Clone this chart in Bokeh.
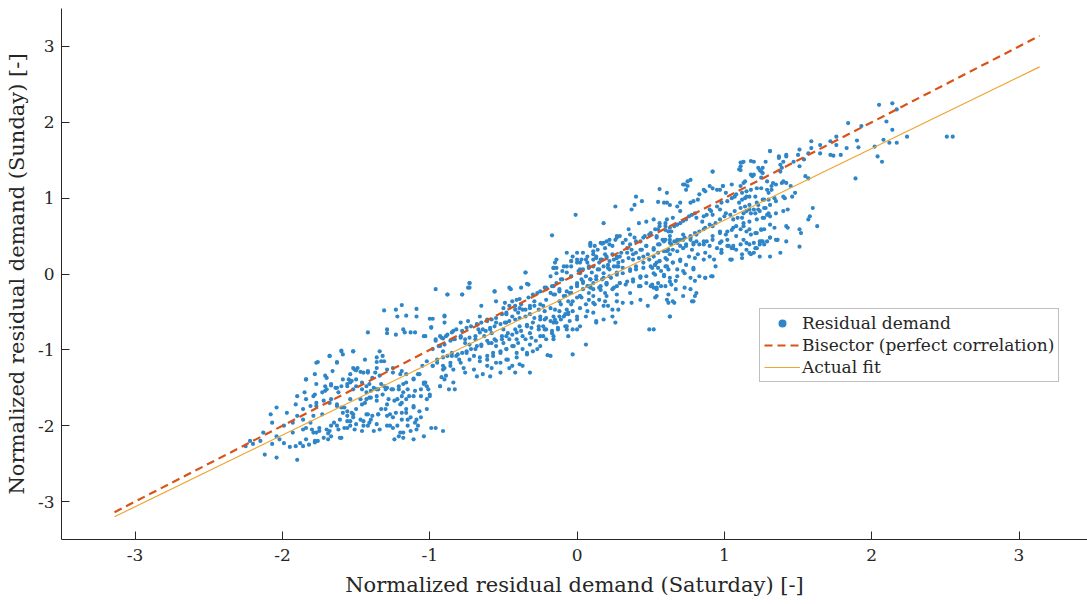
from bokeh.plotting import figure
from bokeh.models import Range1d, Legend, LegendItem, FixedTicker
from bokeh.embed import file_html
from bokeh.resources import INLINE

# ---- data (Saturday, Sunday) normalized residual demand ----
cluster_low = [(-1.31,-0.48),(-1.23,-0.47),(-1.19,-0.41),(-1.09,-0.46),(-1.16,-0.55),(-1.22,-0.56),(-1.09,-0.56),(-0.98,-0.59),(-0.90,-0.55),(-1.29,-0.73),(-1.29,-0.78),(-1.42,-0.77),(-1.23,-0.80),(-1.18,-0.73),(-1.17,-0.77),(-1.13,-0.77),(-1.10,-0.77),(-1.04,-0.82),(-0.99,-0.70),(-0.90,-0.64),(-0.91,-0.85),(-0.96,-0.88),(-0.94,-0.95),(-0.91,-1.02),(-0.95,-1.13),(-0.98,-1.21),(-0.91,-1.26),(-0.92,-1.36),(-1.60,-1.01),(-1.52,-1.02),(-1.68,-1.08),(-1.76,-1.16),(-1.63,-1.16),(-1.44,-1.13),(-1.32,-1.08),(-1.31,-1.15),(-1.36,-1.16),(-1.52,-1.24),(-1.50,-1.27),(-1.47,-1.29),(-1.42,-1.28),(-1.37,-1.30),(-1.34,-1.34),(-1.25,-1.24),(-1.19,-1.28),(-1.16,-1.32),(-1.08,-1.32),(-1.11,-1.38),(-1.04,-1.45),(-1.06,-1.52),(-1.00,-1.61),(-0.93,-1.48),(-1.84,-1.39),(-1.77,-1.45),(-1.71,-1.48),(-1.70,-1.37),(-1.67,-1.47),(-1.64,-1.50),(-1.62,-1.56),(-1.56,-1.48),(-1.55,-1.39),(-1.54,-1.43),(-1.52,-1.52),(-1.50,-1.48),(-1.46,-1.52),(-1.43,-1.56),(-1.41,-1.45),(-1.38,-1.50),(-1.35,-1.52),(-1.31,-1.48),(-1.30,-1.52),(-1.25,-1.52),(-1.21,-1.52),(-1.18,-1.45),(-1.15,-1.52),(-1.11,-1.61),(-1.16,-1.65),(-1.19,-1.61),(-1.19,-1.70),(-1.22,-1.65),(-1.29,-1.72),(-1.36,-1.67),(-1.41,-1.63),(-1.44,-1.70),(-1.47,-1.65),(-1.54,-1.65),(-1.58,-1.76),(-1.59,-1.83),(-1.56,-1.87),(-1.54,-1.94),(-1.52,-1.85),(-1.50,-1.98),(-1.45,-1.94),(-1.42,-1.85),(-1.39,-1.87),(-1.35,-1.85),(-1.33,-1.78),(-1.29,-1.87),(-1.25,-1.89),(-1.19,-1.83),(-1.16,-1.83),(-1.13,-1.89),(-1.11,-1.76),(-1.09,-1.92),(-1.08,-2.00),(-1.15,-2.00),(-1.18,-2.09),(-1.21,-2.14),(-1.22,-2.00),(-1.27,-2.00),(-1.36,-1.98),(-1.41,-1.96),(-1.45,-2.00),(-1.54,-2.00),(-1.58,-2.03),(-1.63,-2.00),(-1.65,-1.96),(-1.68,-2.07),(-1.69,-2.10),(-1.75,-2.03),(-1.77,-2.09),(-1.80,-2.05),(-1.86,-2.05),(-1.93,-2.09),(-1.99,-2.00),(-2.04,-2.14),(-2.02,-2.18),(-1.99,-2.23),(-1.95,-2.28),(-1.91,-2.27),(-1.88,-2.23),(-1.86,-2.27),(-1.82,-2.25),(-1.78,-2.22),(-1.76,-2.20),(-1.72,-2.16),(-1.67,-2.14),(-1.60,-2.16),(-1.90,-1.61),(-1.91,-1.72),(-1.84,-1.65),(-1.78,-1.59),(-1.77,-1.74),(-1.71,-1.54),(-1.68,-1.70),(-1.63,-1.74),(-1.73,-1.85),(-1.79,-1.87),(-1.81,-1.96),(-1.86,-1.92),(-1.90,-1.87),(-1.93,-1.96),(-1.97,-1.83),(-2.04,-1.76),(-2.08,-1.85),(-2.07,-1.96),(-2.13,-2.09),(-2.12,-2.38),(-2.04,-2.42),(-1.90,-2.45),(-2.07,-2.24),(-2.15,-2.20),(-2.20,-2.24),(-0.99,-2.03),(-0.96,-2.03),(-0.91,-2.07),(-0.89,-1.34),(-0.87,-1.52),(-2.25,-2.27),(-2.22,-2.20)]

cluster_low_extra = [(-1.60,-1.02),(-1.59,-1.06),(-1.52,-1.02),(-1.68,-1.08),(-1.77,-1.17),(-1.63,-1.17),(-1.36,-1.10),(-1.33,-1.15),(-1.34,-1.02),(-1.84,-1.39),(-1.78,-1.32),(-1.71,-1.34),(-1.66,-1.28),(-1.59,-1.39),(-1.54,-1.32),(-1.51,-1.26),(-1.49,-1.24),(-1.45,-1.30),(-1.42,-1.30),(-1.39,-1.37),(-1.36,-1.24),(-1.29,-1.26),(-1.25,-1.30),(-1.20,-1.32),(-1.16,-1.43),(-1.11,-1.39),(-1.07,-1.32),(-1.03,-1.43),(-1.01,-1.52),(-1.85,-1.56),(-1.79,-1.61),(-1.73,-1.56),(-1.70,-1.52),(-1.67,-1.45),(-1.63,-1.50),(-1.60,-1.48),(-1.56,-1.45),(-1.53,-1.41),(-1.50,-1.39),(-1.46,-1.43),(-1.43,-1.48),(-1.40,-1.54),(-1.36,-1.52),(-1.33,-1.45),(-1.29,-1.50),(-1.26,-1.52),(-1.21,-1.48),(-1.18,-1.56),(-1.14,-1.61),(-1.10,-1.54),(-1.06,-1.61),(-1.02,-1.65),(-1.86,-1.78),(-1.81,-1.74),(-1.77,-1.70),(-1.72,-1.67),(-1.67,-1.65),(-1.63,-1.72),(-1.60,-1.76),(-1.56,-1.81),(-1.53,-1.83),(-1.50,-1.78),(-1.46,-1.72),(-1.43,-1.65),(-1.40,-1.63),(-1.36,-1.61),(-1.32,-1.59),(-1.28,-1.65),(-1.24,-1.67),(-1.20,-1.72),(-1.16,-1.78),(-1.11,-1.74),(-1.07,-1.81),(-1.02,-1.78),(-1.61,-1.92),(-1.56,-1.94),(-1.52,-1.89),(-1.47,-1.92),(-1.43,-1.85),(-1.40,-1.92),(-1.35,-1.85),(-1.30,-1.78),(-1.27,-1.85),(-1.23,-1.83),(-1.19,-1.92),(-1.15,-1.92),(-1.10,-1.96),(-1.06,-1.89),(-1.84,-2.03),(-1.79,-2.09),(-1.75,-2.07),(-1.70,-2.05),(-1.67,-2.00),(-1.62,-2.05),(-1.56,-2.03),(-1.51,-2.05),(-1.46,-2.07),(-1.42,-2.00),(-1.38,-2.07),(-1.34,-2.05),(-1.29,-2.00),(-1.25,-2.03),(-1.20,-2.09),(-1.13,-2.07),(-1.09,-2.05),(-1.84,-2.18),(-1.78,-2.20),(-1.69,-2.18),(-1.61,-2.16),(-1.24,-2.18),(-1.18,-2.16),(-1.11,-2.18),(-1.04,-2.14)]

cluster_mid = [(-0.17,0.51),(0.09,0.39),(0.17,0.40),(0.11,0.30),(0.20,0.43),(0.27,0.48),(0.24,0.37),(0.00,0.28),(-0.07,0.28),(-0.14,0.19),(-0.16,0.08),(-0.09,0.10),(-0.04,0.17),(0.02,0.15),(0.06,0.19),(0.13,0.23),(0.19,0.26),(0.22,0.17),(0.27,0.21),(0.28,0.10),(-0.96,-0.20),(-0.88,-0.27),(-0.78,-0.27),(-0.73,-0.12),(-0.73,-0.18),(-0.56,-0.23),(-0.45,-0.20),(-0.35,0.02),(-0.34,-0.13),(-0.39,-0.33),(-0.44,-0.36),(-0.55,-0.36),(-0.50,-0.45),(-0.65,-0.42),(-0.66,-0.56),(-0.61,-0.60),(-0.68,-0.67),(-0.74,-0.62),(-0.79,-0.64),(-0.84,-0.75),(-0.90,-0.56),(-1.00,-0.59),(-0.99,-0.71),(-1.03,-0.82),(-0.96,-0.86),(-0.93,-0.82),(-0.89,-0.82),(-0.84,-0.86),(-0.79,-0.82),(-0.76,-0.91),(-0.73,-0.93),(-0.69,-0.86),(-0.64,-0.73),(-0.59,-0.73),(-0.55,-0.64),(-0.48,-0.64),(-0.44,-0.56),(-0.40,-0.51),(-0.37,-0.47),(-0.32,-0.42),(-0.29,-0.36),(-0.26,-0.47),(-0.23,-0.42),(-0.21,-0.34),(-0.18,-0.25),(-0.15,-0.27),(-0.12,-0.36),(-0.09,-0.29),(-0.07,-0.23),(-0.04,-0.18),(0.00,-0.14),(0.03,-0.07),(0.06,-0.03),(0.10,0.02),(0.14,0.06),(0.17,-0.07),(0.20,-0.12),(0.23,-0.05),(0.27,0.02),(0.29,-0.12),(0.24,-0.20),(0.19,-0.25),(0.15,-0.18),(0.11,-0.29),(0.08,-0.25),(0.04,-0.20),(0.00,-0.31),(-0.04,-0.40),(-0.07,-0.47),(-0.12,-0.49),(-0.16,-0.56),(-0.21,-0.58),(-0.25,-0.60),(-0.30,-0.64),(-0.34,-0.67),(-0.39,-0.69),(-0.42,-0.73),(-0.47,-0.78),(-0.51,-0.82),(-0.56,-0.86),(-0.60,-0.91),(-0.65,-0.95),(-0.69,-0.99),(-0.75,-1.04),(-0.81,-1.06),(-0.85,-1.08),(-0.91,-1.10),(-0.95,-1.17),(-1.02,-1.15),(-1.05,-1.21),(-0.98,-1.21),(-0.90,-1.24),(-0.84,-1.26),(-0.77,-1.24),(-0.70,-1.26),(-0.64,-1.32),(-0.58,-1.24),(-0.52,-1.17),(-0.47,-1.13),(-0.41,-1.04),(-0.37,-0.99),(-0.32,-0.93),(-0.28,-0.88),(-0.23,-0.82),(-0.17,-0.78),(-0.13,-0.73),(-0.08,-0.69),(-0.05,-0.62),(0.00,-0.60),(0.06,-0.56),(0.11,-0.51),(0.13,-0.62),(0.18,-0.60),(0.24,-0.56),(0.21,-0.42),(0.27,-0.36),(0.28,-0.47),(-0.42,-1.30),(-0.44,-1.21),(-0.39,-1.19),(-0.32,-1.30),(-0.20,-1.07),(-0.03,-1.06),(0.06,-0.93),(-1.04,-1.43),(-1.02,-1.48),(-0.93,-1.48),(-0.84,-1.43),(-0.83,-1.52),(-1.00,-1.59),(-0.90,-1.39),(-0.76,-1.30),(-0.68,-1.35),(-0.59,-1.35),(-0.52,-1.30),(-0.67,-0.73),(-0.63,-0.82),(-0.58,-0.78),(-0.50,-0.73),(-0.46,-0.86),(-0.41,-0.86),(-0.37,-0.82),(-0.32,-0.78),(-0.26,-0.73),(-0.23,-0.69),(-0.16,-0.64),(-0.11,-0.60),(-0.06,-0.53),(-0.03,-0.49),(0.02,-0.45),(0.06,-0.40),(0.11,-0.38),(0.15,-0.34),(0.19,-0.36),(0.02,-0.69),(0.00,-0.73),(-0.07,-0.73),(-0.06,-0.82),(-0.16,-0.86),(-0.25,-0.95),(-0.30,-1.02),(-0.34,-1.06),(-0.43,-0.95),(-0.48,-0.99),(-0.52,-1.04),(-0.57,-1.08),(-0.61,-1.13),(-0.66,-1.15),(-0.73,-1.13),(-0.80,-1.13),(-0.86,-1.17),(-0.93,-0.95),(-0.98,-0.99),(-0.55,-0.95),(-0.50,-0.91),(-0.21,-0.73),(-0.14,-0.64),(-0.09,-0.56),(-0.03,-0.36),(0.03,-0.31),(0.09,-0.16),(0.11,-0.12),(0.21,0.08),(0.15,0.15),(0.08,0.10),(0.01,0.04),(-0.04,-0.03),(-0.11,-0.07),(-0.14,-0.12),(-0.17,-0.16),(-0.22,-0.18),(-0.25,-0.23),(-0.30,-0.27),(-0.33,-0.31),(-0.38,-0.40),(-0.42,-0.42),(-0.48,-0.53)]

cluster_mid_extra = [(-0.14,0.08),(-0.15,0.15),(-0.07,0.02),(-0.35,0.02),(-0.33,-0.14),(-0.38,-0.18),(-0.46,-0.18),(-0.56,-0.23),(-0.73,-0.12),(-0.74,-0.18),(-0.78,-0.27),(-0.88,-0.27),(-0.49,-0.38),(-0.41,-0.34),(-0.27,-0.25),(-0.21,-0.20),(-0.16,-0.27),(-0.12,-0.23),(-0.08,-0.29),(-0.06,-0.36),(-0.11,-0.40),(-0.15,-0.47),(-0.18,-0.45),(-0.22,-0.49),(-0.25,-0.40),(-0.29,-0.42),(-0.32,-0.45),(-0.35,-0.47),(-0.39,-0.45),(-0.42,-0.47),(-0.46,-0.42),(-0.48,-0.51),(-0.51,-0.53),(-0.55,-0.58),(-0.58,-0.60),(-0.61,-0.62),(-0.65,-0.64),(-0.68,-0.66),(-0.72,-0.69),(-0.75,-0.71),(-0.78,-0.75),(-0.82,-0.73),(-0.85,-0.77),(-0.88,-0.80),(-0.92,-0.84),(-0.90,-0.93),(-0.86,-0.88),(-0.83,-0.86),(-0.79,-0.84),(-0.76,-0.86),(-0.73,-0.84),(-0.69,-0.82),(-0.66,-0.77),(-0.62,-0.75),(-0.59,-0.71),(-0.56,-0.69),(-0.52,-0.66),(-0.49,-0.64),(-0.46,-0.62),(-0.42,-0.60),(-0.39,-0.58),(-0.35,-0.56),(-0.32,-0.53),(-0.29,-0.58),(-0.25,-0.56),(-0.22,-0.60),(-0.18,-0.62),(-0.15,-0.60),(-0.12,-0.56),(-0.08,-0.53),(-0.06,-0.51),(-0.07,-0.69),(-0.13,-0.71),(-0.17,-0.75),(-0.22,-0.73),(-0.26,-0.69),(-0.31,-0.71),(-0.34,-0.69),(-0.38,-0.75),(-0.41,-0.77),(-0.44,-0.80),(-0.48,-0.82),(-0.51,-0.86),(-0.55,-0.88),(-0.58,-0.91),(-0.61,-0.88),(-0.65,-0.93),(-0.68,-0.95),(-0.72,-0.99),(-0.75,-1.02),(-0.78,-1.04),(-0.82,-1.08),(-0.85,-1.04),(-0.88,-1.08),(-0.70,-1.08),(-0.66,-1.10),(-0.61,-1.08),(-0.57,-1.04),(-0.52,-1.02),(-0.48,-0.99),(-0.44,-0.95),(-0.40,-0.91),(-0.35,-0.86),(-0.31,-0.84),(-0.25,-0.82),(-0.21,-0.86),(-0.16,-0.82),(-0.55,-1.17),(-0.48,-1.13),(-0.41,-1.10),(-0.34,-1.04),(-0.27,-0.99),(-0.18,-1.08),(-0.79,-1.17),(-0.86,-1.21),(-0.91,-1.21),(-0.61,-1.21),(-0.46,-1.24),(-0.37,-1.21)]

cluster_center = [(1.12,1.47),(1.18,1.49),(1.26,1.40),(1.20,1.31),(1.10,1.38),(0.92,1.35),(1.25,1.27),(0.73,1.18),(0.75,1.16),(0.77,1.24),(0.56,1.12),(0.40,1.02),(0.44,0.96),(0.39,0.91),(0.26,0.89),(0.55,0.95),(0.61,0.94),(0.70,0.94),(0.77,0.94),(0.82,0.98),(0.87,1.09),(0.90,1.16),(0.95,1.11),(0.99,1.16),(1.01,1.07),(1.07,1.02),(1.10,0.94),(1.14,1.00),(1.17,1.02),(1.22,0.94),(1.26,0.98),(1.30,1.07),(-0.01,0.78),(0.18,0.67),(0.37,0.85),(0.35,0.59),(0.42,0.67),(0.47,0.69),(0.52,0.72),(0.55,0.59),(0.60,0.63),(0.64,0.56),(0.68,0.65),(0.72,0.70),(0.76,0.76),(0.80,0.80),(0.86,0.76),(0.90,0.85),(0.92,0.78),(0.97,0.85),(1.01,0.80),(1.06,0.72),(1.09,0.74),(1.13,0.80),(1.18,0.80),(1.23,0.85),(1.29,0.78),(1.31,0.65),(1.25,0.59),(1.21,0.54),(1.15,0.56),(1.11,0.59),(1.06,0.61),(1.01,0.52),(0.97,0.56),(0.92,0.63),(0.86,0.59),(0.81,0.52),(0.77,0.45),(0.72,0.52),(0.68,0.45),(0.63,0.41),(0.58,0.45),(0.54,0.50),(0.49,0.52),(0.45,0.48),(0.40,0.43),(0.36,0.39),(0.31,0.41),(0.27,0.50),(0.22,0.45),(0.18,0.41),(0.14,0.32),(0.09,0.37),(0.04,0.28),(0.00,0.19),(-0.04,0.10),(-0.03,0.23),(0.02,0.06),(0.07,0.15),(0.11,0.19),(0.16,0.19),(0.20,0.23),(0.25,0.19),(0.29,0.23),(0.34,0.28),(0.38,0.26),(0.43,0.32),(0.47,0.37),(0.52,0.32),(0.56,0.39),(0.61,0.30),(0.65,0.32),(0.70,0.37),(0.74,0.39),(0.79,0.41),(0.83,0.39),(0.88,0.43),(0.92,0.45),(0.98,0.43),(1.03,0.37),(1.06,0.34),(1.11,0.39),(1.15,0.32),(1.20,0.41),(1.24,0.39),(1.29,0.43),(1.04,0.19),(1.18,0.26),(0.98,0.28),(0.90,0.23),(0.86,0.19),(0.80,0.21),(0.76,0.23),(0.70,0.19),(0.65,0.15),(0.60,0.10),(0.54,0.15),(0.49,0.19),(0.45,0.15),(0.40,0.10),(0.36,0.06),(0.31,0.08),(0.27,0.10),(0.22,0.06),(0.18,0.01),(0.13,-0.03),(0.09,-0.07),(0.04,-0.12),(0.00,-0.16),(-0.04,-0.25),(0.02,-0.29),(0.08,-0.34),(0.12,-0.40),(0.18,-0.42),(0.24,-0.47),(0.31,-0.38),(0.37,-0.38),(0.43,-0.34),(0.48,-0.42),(0.54,-0.29),(0.61,-0.34),(0.66,-0.38),(0.72,-0.29),(0.78,-0.36),(0.63,-0.56),(0.49,-0.73),(0.26,-0.64),(0.13,-0.64),(0.07,-0.49),(0.00,-0.56),(-0.03,-0.73),(0.42,-0.16),(0.47,-0.12),(0.52,-0.18),(0.57,-0.16),(0.63,-0.10),(0.68,-0.03),(0.73,0.01),(0.79,0.06),(0.87,-0.05),(0.92,-0.03),(0.52,0.01),(0.59,-0.01),(0.43,-0.03),(0.38,-0.10),(0.33,-0.14),(0.27,-0.16),(0.20,-0.12),(0.16,-0.21),(0.09,-0.18)]

cluster_center_extra = [(0.09,0.41),(0.12,0.37),(0.16,0.41),(0.19,0.34),(0.22,0.39),(0.26,0.45),(0.29,0.50),(0.33,0.45),(0.36,0.52),(0.39,0.48),(0.43,0.43),(0.46,0.50),(0.50,0.54),(0.53,0.59),(0.56,0.63),(0.60,0.67),(0.62,0.56),(0.59,0.45),(0.55,0.39),(0.52,0.34),(0.47,0.37),(0.44,0.32),(0.40,0.28),(0.37,0.32),(0.34,0.34),(0.30,0.28),(0.27,0.23),(0.24,0.26),(0.20,0.21),(0.17,0.19),(0.13,0.21),(0.11,0.26),(0.07,0.23),(0.03,0.19),(0.00,0.15),(-0.04,0.17),(-0.07,0.10),(-0.10,0.04),(-0.14,0.01),(-0.16,0.08),(-0.18,-0.03),(0.04,0.06),(0.08,0.08),(0.11,0.10),(0.15,0.06),(0.18,0.10),(0.21,0.12),(0.25,0.10),(0.28,0.15),(0.31,0.17),(0.35,0.21),(0.38,0.19),(0.42,0.21),(0.45,0.23),(0.48,0.26),(0.52,0.23),(0.55,0.28),(0.59,0.30),(0.62,0.32),(0.61,0.19),(0.56,0.17),(0.53,0.12),(0.50,0.10),(0.45,0.08),(0.40,0.06),(0.36,0.04),(0.31,0.01),(0.27,-0.01),(0.22,-0.03),(0.18,-0.05),(0.13,-0.07),(0.09,-0.07),(0.04,-0.10),(0.00,-0.12),(-0.04,-0.03),(0.02,0.01),(0.07,-0.16),(0.11,-0.20),(0.16,-0.16),(0.20,-0.14),(0.25,-0.18),(0.29,-0.12),(0.34,-0.10),(0.38,-0.07),(0.43,-0.05),(0.47,-0.03),(0.53,-0.01),(0.57,0.04),(0.62,0.06),(0.43,-0.16),(0.50,-0.16),(0.54,-0.20),(0.36,-0.25),(0.27,-0.27),(0.20,-0.29),(0.02,-0.29),(-0.05,-0.25),(-0.12,-0.20),(-0.21,-0.18),(-0.16,-0.16),(-0.10,-0.07)]

cluster_upper_extra = [(1.31,1.62),(1.37,1.55),(1.42,1.57),(1.38,1.44),(1.11,1.47),(1.11,1.37),(0.92,1.35),(1.24,1.37),(1.26,1.33),(1.18,1.31),(1.13,1.20),(1.05,1.18),(0.99,1.16),(0.97,1.11),(0.92,1.13),(0.86,1.11),(0.83,1.05),(0.79,0.96),(0.72,1.18),(0.75,1.22),(0.74,1.11),(0.61,1.07),(0.59,0.94),(0.63,0.91),(0.68,0.89),(0.70,0.83),(0.65,0.74),(0.61,0.72),(0.56,0.67),(0.60,0.58),(0.63,0.61),(0.66,0.63),(0.70,0.67),(0.74,0.72),(0.78,0.78),(0.81,0.74),(0.85,0.69),(0.88,0.78),(0.91,0.83),(0.95,0.89),(0.98,0.94),(1.02,0.96),(1.05,1.00),(1.08,1.05),(1.12,1.07),(1.15,1.09),(1.18,1.11),(1.22,1.13),(1.25,1.13),(1.29,1.11),(1.32,1.16),(1.35,1.18),(1.39,1.20),(1.42,1.20),(1.41,1.00),(1.35,0.96),(1.31,0.91),(1.27,0.87),(1.24,0.83),(1.21,0.80),(1.17,0.85),(1.14,0.89),(1.11,0.87),(1.07,0.83),(1.04,0.78),(1.00,0.76),(0.97,0.72),(0.94,0.67),(0.90,0.65),(0.87,0.61),(0.83,0.56),(0.80,0.54),(0.77,0.50),(0.73,0.48),(0.70,0.45),(0.66,0.43),(0.63,0.50),(0.60,0.45),(0.64,0.39),(0.74,0.37),(0.79,0.39),(0.86,0.43),(0.92,0.50),(0.97,0.54),(1.02,0.56),(1.05,0.58),(1.08,0.63),(1.13,0.67),(1.17,0.69),(1.22,0.72),(1.26,0.74),(1.31,0.76),(1.35,0.80),(1.40,0.83),(1.43,0.85),(1.42,0.63),(1.34,0.61),(1.25,0.58),(1.18,0.52),(1.08,0.50),(1.02,0.45),(0.97,0.41),(1.06,0.37),(1.25,0.43),(1.35,0.45),(1.42,0.43)]

cluster_right_extra = [(0.54,0.48),(0.59,0.43),(0.63,0.45),(0.68,0.41),(0.72,0.45),(0.77,0.48),(0.81,0.43),(0.86,0.39),(0.90,0.37),(0.95,0.34),(0.98,0.32),(1.02,0.37),(1.05,0.34),(1.08,0.32),(1.13,0.45),(1.17,0.39),(1.22,0.34),(1.26,0.43),(1.31,0.48),(1.36,0.45),(1.20,0.28),(1.24,0.23),(1.12,0.21),(1.05,0.19),(0.98,0.28),(0.93,0.19),(0.87,0.28),(0.82,0.26),(0.78,0.32),(0.72,0.34),(0.68,0.30),(0.63,0.26),(0.60,0.21),(0.56,0.17),(0.53,0.12),(0.51,0.08),(0.55,0.08),(0.61,0.10),(0.65,0.15),(0.70,0.17),(0.74,0.12),(0.79,0.08),(0.72,0.04),(0.68,0.06),(0.94,0.10),(0.59,-0.03),(0.63,-0.05),(0.67,-0.09),(0.64,-0.14),(0.60,-0.16),(0.55,-0.12),(0.51,-0.14),(0.54,-0.18),(0.77,-0.05),(0.80,-0.09),(0.83,-0.03),(0.91,-0.03),(0.87,-0.05),(0.73,-0.18),(0.77,-0.20),(0.81,-0.25),(0.80,-0.29),(0.67,-0.20),(0.62,-0.27),(0.53,-0.31),(0.65,-0.36),(0.62,-0.38),(0.79,-0.36),(0.63,-0.56),(0.52,-0.73)]

cluster_high = [(2.05,2.23),(2.14,2.25),(2.17,2.17),(2.10,2.01),(1.84,1.99),(1.93,1.95),(2.14,1.90),(2.24,1.81),(2.12,1.73),(2.17,1.73),(2.08,1.77),(2.02,1.68),(2.04,1.55),(2.07,1.48),(1.90,1.76),(1.91,1.67),(1.83,1.66),(1.76,1.81),(1.72,1.75),(1.76,1.70),(1.79,1.57),(1.74,1.56),(1.72,1.57),(1.65,1.70),(1.59,1.75),(1.59,1.66),(1.65,1.59),(1.57,1.59),(1.51,1.64),(1.50,1.57),(1.54,1.51),(1.51,1.42),(1.47,1.48),(1.42,1.55),(1.40,1.48),(1.37,1.53),(1.39,1.40),(1.38,1.35),(1.31,1.62),(1.28,1.48),(1.23,1.40),(1.25,1.35),(1.20,1.48),(1.13,1.48),(1.11,1.42),(1.19,1.29),(1.14,1.22),(1.11,1.16),(1.29,1.22),(1.33,1.20),(1.32,1.11),(1.40,1.22),(1.45,1.16),(1.48,1.07),(1.46,1.02),(1.40,1.02),(1.34,1.00),(1.30,0.98),(1.27,0.98),(1.21,1.02),(1.15,1.02),(1.12,0.98),(1.17,0.91),(1.23,0.91),(1.28,0.87),(1.20,0.85),(1.15,0.83),(1.12,0.74),(1.27,0.74),(1.30,0.80),(1.13,0.63),(1.17,0.59),(1.22,0.54),(1.27,0.59),(1.24,0.43),(1.27,0.39),(1.21,0.34),(1.17,0.28),(1.15,0.41),(1.12,0.26),(1.31,0.48),(1.36,0.45),(1.38,0.28),(1.31,0.23),(1.43,0.61),(1.51,0.59),(1.52,0.54),(1.51,0.36),(1.58,0.76),(1.60,0.87),(1.57,0.72),(1.63,0.63),(1.89,1.26),(1.57,1.26),(1.55,1.29),(2.51,1.81),(2.55,1.81)]

bisector_x = [-3.14, 3.14]
bisector_y = [-3.14, 3.14]
fit_x = [-3.14, 3.14]
fit_y = [-3.20, 2.73]

tick_values = [-3, -2, -1, 0, 1, 2, 3]
tick_labels = ["-3", "-2", "-1", "0", "1", "2", "3"]

# ---- assemble ----
points = (cluster_low + cluster_low_extra + cluster_mid + cluster_mid_extra
          + cluster_center + cluster_center_extra + cluster_upper_extra
          + cluster_right_extra + cluster_high)
saturday = [pt[0] for pt in points]
sunday = [pt[1] for pt in points]

FONT = "DejaVu Serif"
AX = "#262626"

p = figure(width=1087, height=604, output_backend="svg", toolbar_location=None,
           x_range=Range1d(-3.5, 3.465), y_range=Range1d(-3.5, 3.5),
           min_border_left=61, min_border_right=0, min_border_top=8, min_border_bottom=65)
p.xgrid.visible = False
p.ygrid.visible = False
p.outline_line_color = None
p.background_fill_color = "white"

for ax in (p.xaxis[0], p.yaxis[0]):
    ax.ticker = FixedTicker(ticks=tick_values)
    ax.major_label_overrides = {v: s for v, s in zip(tick_values, tick_labels)}
    ax.axis_line_color = AX
    ax.axis_line_width = 1
    ax.major_tick_in = 8
    ax.major_tick_out = 0
    ax.major_tick_line_color = AX
    ax.minor_tick_line_color = None
    ax.major_label_text_font = FONT
    ax.major_label_text_font_size = "17px"
    ax.major_label_text_color = AX
    ax.axis_label_text_font = FONT
    ax.axis_label_text_font_size = "21px"
    ax.axis_label_text_font_style = "normal"
    ax.axis_label_text_color = AX

p.xaxis[0].axis_label = "Normalized residual demand (Saturday) [-]"
p.yaxis[0].axis_label = "Normalized residual demand (Sunday) [-]"
p.xaxis[0].major_label_standoff = 9
p.yaxis[0].major_label_standoff = 7
p.xaxis[0].axis_label_standoff = 9
p.yaxis[0].axis_label_standoff = 6

r_sc = p.scatter(saturday, sunday, size=4.2, fill_color="#2e86c8", line_color=None)
r_bis = p.line(bisector_x, bisector_y, line_color="#D95319", line_width=2.2, line_dash="8 5")
r_fit = p.line(fit_x, fit_y, line_color="#EDA530", line_width=1.2)

legend = Legend(items=[
    LegendItem(label="Residual demand", renderers=[r_sc]),
    LegendItem(label="Bisector (perfect correlation)", renderers=[r_bis]),
    LegendItem(label="Actual fit", renderers=[r_fit]),
], location=(698, 157))
legend.border_line_color = "#7f7f7f"
legend.border_line_width = 1
legend.background_fill_color = "white"
legend.background_fill_alpha = 1
legend.label_text_font = FONT
legend.label_text_font_size = "17px"
legend.label_text_color = AX
legend.glyph_width = 36
legend.glyph_height = 20
legend.label_height = 20
legend.label_standoff = 2
legend.spacing = 2
legend.padding = 4
legend.margin = 0
p.add_layout(legend)

open("out.html", "w").write(file_html(p, INLINE))
